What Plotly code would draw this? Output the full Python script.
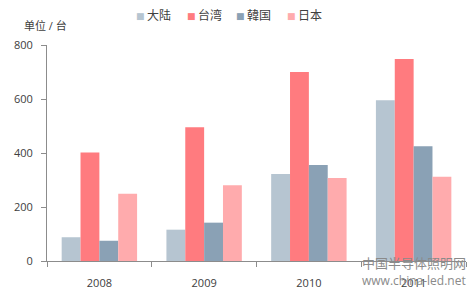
import plotly.graph_objects as go

years = ["2008", "2009", "2010", "2011"]
series_names = ["大陆", "台湾", "韓国", "日本"]
mainland = [88, 116, 322, 595]
taiwan = [402, 495, 700, 748]
korea = [75, 142, 356, 425]
japan = [249, 281, 307, 312]
colors = ["#b6c5d1", "#ff7b7f", "#8aa1b5", "#ffabad"]

values = [mainland, taiwan, korea, japan]

fig = go.Figure()
for name, vals, col in zip(series_names, values, colors):
    fig.add_trace(go.Bar(x=years, y=vals, name=name, marker=dict(color=col, line=dict(width=0))))

font_family = "Open Sans, Noto Sans CJK SC, sans-serif"
fig.update_layout(
    width=475, height=296,
    margin=dict(l=47, r=9, t=45, b=35),
    paper_bgcolor="white", plot_bgcolor="white",
    barmode="group", bargap=0.28, bargroupgap=0,
    font=dict(family=font_family, size=11, color="#404040"),
    showlegend=False,
    xaxis=dict(showline=True, linecolor="#8c8c8c", linewidth=1, ticks="outside",
               tickson="boundaries", ticklen=5, tickcolor="#8c8c8c", ticklabelstandoff=12,
               automargin=False,
               showgrid=False, tickfont=dict(size=11, color="#404040")),
    yaxis=dict(range=[0, 800], dtick=200, showline=True, linecolor="#8c8c8c", linewidth=1,
               ticks="outside", ticklen=5, tickcolor="#8c8c8c", showgrid=False,
               ticklabelstandoff=6, automargin=False,
               zeroline=False, tickfont=dict(size=11, color="#404040")),
)

# legend drawn as text items (square glyph + label)
legend_x = [140, 191, 240, 291]
for name, col, lx in zip(series_names, colors, legend_x):
    fig.add_annotation(text="■", xref="paper", yref="paper",
                       x=(lx - 47) / 419, y=1 + (45 - 16) / 216,
                       xanchor="center", yanchor="middle", showarrow=False,
                       font=dict(size=9, color=col, family="DejaVu Sans"))
    fig.add_annotation(text=name, xref="paper", yref="paper",
                       x=(lx + 5 - 47) / 419, y=1 + (45 - 16) / 216,
                       xanchor="left", yanchor="middle", showarrow=False,
                       font=dict(size=12, color="#404040"))

fig.add_annotation(text="单位 / 台", xref="paper", yref="paper", x=(22 - 47) / 419, y=1 + (45 - 26) / 216,
                   xanchor="left", yanchor="middle", showarrow=False,
                   font=dict(size=11, color="#404040"))
fig.add_annotation(text="中国半导体照明网", xref="paper", yref="paper", x=(468 - 47) / 419,
                   y=-(263 - 261) / 216, xanchor="right", yanchor="middle", showarrow=False,
                   font=dict(size=13, color="#8a8a8a"))
fig.add_annotation(text="www.china-led.net", xref="paper", yref="paper", x=(468 - 47) / 419,
                   y=-(280 - 261) / 216, xanchor="right", yanchor="middle", showarrow=False,
                   font=dict(size=12, color="#8a8a8a"))
fig.write_html("out.html")
